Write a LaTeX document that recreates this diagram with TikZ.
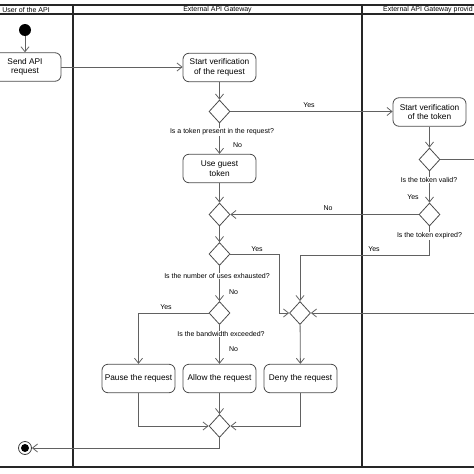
\documentclass[tikz,border=0pt]{standalone}
\usepackage{fontspec}
\setmainfont{Liberation Sans}
\usetikzlibrary{shapes.geometric,arrows.meta}
\begin{document}
\begin{tikzpicture}[x=1pt,y=-1pt,
  flow/.style={draw=black!62,line width=0.8pt},
  arr/.style={flow,-{Straight Barb[length=5pt,width=8pt]}},
  act/.style={draw=black!70,line width=0.8pt,rounded corners=6pt,minimum height=28.5pt,minimum width=73pt,align=center,inner sep=1pt,font=\fontsize{8.3}{9.6}\selectfont},
  dec/.style={draw=black!70,line width=0.8pt,diamond,minimum width=21pt,minimum height=23pt,inner sep=0pt},
  lbl/.style={font=\fontsize{7}{8}\selectfont,inner sep=0.8pt,fill=white},
  lane/.style={draw=black!85,line width=1.6pt},
  hdr/.style={font=\fontsize{7}{8}\selectfont,inner sep=0pt}]
\useasboundingbox (0,0) rectangle (474,474);
\clip (0,0) rectangle (474,474);
% swimlanes
\draw[lane] (-30,5) -- (500,5);
\draw[lane] (-30,14) -- (500,14);
\draw[lane] (-30,467) -- (500,467);
\draw[lane] (73,5) -- (73,467);
\draw[lane] (362,5) -- (362,467);
\node[hdr] (h1) at (26,9.7) {User of the API};
\node[hdr] (h2) at (217.5,9.7) {External API Gateway};
\node[hdr,anchor=west] (h3) at (383,9.7) {External API Gateway provid};
% nodes
\node[circle,fill=black,minimum size=12pt,inner sep=0pt] (init) at (25,30) {};
\node[act,minimum width=72pt] (send) at (25,67) {Send API\\request};
\node[act] (sv) at (219.5,67.5) {Start verification\\of the request};
\node[dec] (d1) at (219.5,111.5) {};
\node[act] (guest) at (219.5,168.5) {Use guest\\token};
\node[dec] (d2) at (219.5,214.5) {};
\node[dec] (d3) at (219.5,254) {};
\node[dec] (d5) at (219.5,313) {};
\node[dec] (d4) at (300,313) {};
\node[act] (svt) at (429.5,112) {Start verification\\of the token};
\node[dec] (dv) at (429.5,159.5) {};
\node[dec] (de) at (429.5,214.5) {};
\node[act] (pause) at (138.5,378.5) {Pause the request};
\node[act] (allow) at (219.5,378.5) {Allow the request};
\node[act] (deny) at (300.5,378.5) {Deny the request};
\node[dec] (d6) at (219.5,426) {};
\node[circle,draw=black!75,line width=0.8pt,minimum size=13pt,inner sep=0pt] (final) at (25,448) {};
\node[circle,fill=black,minimum size=8pt,inner sep=0pt] (finaldot) at (final) {};
% coordinates
\coordinate (k3) at (279,254);
\coordinate (k1) at (300,255);
\coordinate (rv) at (480,159.5);
\coordinate (r4) at (480,313);
% connectors
\draw[arr] (init) -- (send);
\draw[arr] (send.east) -- (sv.west |- send.east);
\draw[arr] (sv) -- (d1);
\draw[arr] (d1.east) -- (d1.east -| svt.west);
\draw[arr] (d1) -- (guest);
\draw[arr] (guest) -- (d2);
\draw[arr] (de.west) -- (d2.east);
\draw[arr] (d2) -- (d3);
\draw[arr] (d3) -- (d5);
\draw[arr] (d3.east) -- (k3) |- (d4.west);
\draw[arr] (de.south) |- (k1) -- (d4.north);
\draw[arr] (svt) -- (dv);
\draw[arr] (dv) -- (de);
\draw[flow] (dv.east) -- (rv);
\draw[arr] (r4) -- (d4.east);
\draw[arr] (d5.west) -| (pause.north);
\draw[arr] (d5) -- (allow);
\draw[arr] (d4) -- (deny);
\draw[arr] (pause.south) |- (d6.west);
\draw[arr] (allow) -- (d6);
\draw[arr] (deny.south) |- (d6.east);
\draw[arr] (d6.south) |- (final.east);
% labels
\node[lbl] (l1) at (222,132) {Is a token present in the request?};
\node[lbl] (l2) at (309,105) {Yes};
\node[lbl] (l3) at (237.5,145) {No};
\node[lbl] (l4) at (328,208) {No};
\node[lbl] (l5) at (217,276) {Is the number of uses exhausted?};
\node[lbl] (l6) at (257,249) {Yes};
\node[lbl] (l7) at (233.5,292) {No};
\node[lbl] (l8) at (221,334) {Is the bandwidth exceeded?};
\node[lbl] (l9) at (233.5,349) {No};
\node[lbl] (l10) at (166,307) {Yes};
\node[lbl] (l11) at (429,180) {Is the token valid?};
\node[lbl] (l12) at (413,197) {Yes};
\node[lbl] (l13) at (429.5,236) {Is the token expired?};
\node[lbl] (l14) at (374,249) {Yes};
\end{tikzpicture}
\end{document}
